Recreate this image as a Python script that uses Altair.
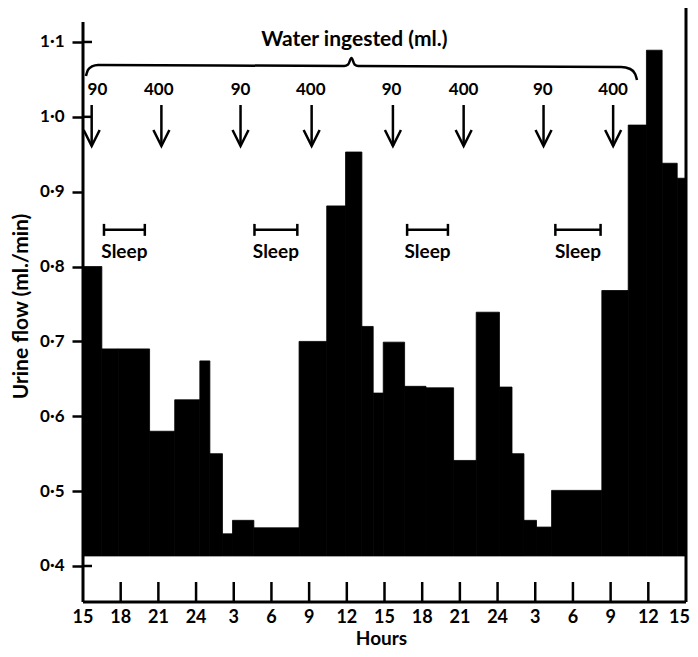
import json
import altair as alt
import pandas as pd

# ---- data (hours counted from 15:00 on the first day) ----
bar_start = [0, 1.5, 2.8, 5.3, 7.3, 9.3, 10.1, 11.1, 11.9, 13.6,
             17.2, 19.4, 20.9, 22.2, 23.1, 23.9, 25.6, 27.3, 29.5, 31.3,
             33.15, 34.15, 35.1, 36.1, 37.3, 41.3, 43.4, 44.85, 46.1, 47.3]
bar_end = bar_start[1:] + [48]
flow = [0.80, 0.69, 0.69, 0.58, 0.622, 0.674, 0.55, 0.443, 0.461, 0.451,
        0.70, 0.881, 0.953, 0.72, 0.631, 0.699, 0.64, 0.638, 0.541, 0.739,
        0.639, 0.55, 0.461, 0.452, 0.501, 0.768, 0.989, 1.089, 0.938, 0.918]
baseline = 0.4134

x_tick_hours = list(range(0, 49, 3))
x_tick_labels = ["15", "18", "21", "24", "3", "6", "9", "12", "15",
                 "18", "21", "24", "3", "6", "9", "12", "15"]
y_tick_values = [0.4, 0.5, 0.6, 0.7, 0.8, 0.9, 1.0, 1.1]
y_tick_labels = ["0·4", "0·5", "0·6", "0·7", "0·8", "0·9", "1·0", "1·1"]
y_cross_ticks = [0.4, 1.0, 1.1]

arrow_hours = [0.69, 6.24, 12.54, 18.2, 24.67, 30.3, 36.66, 42.2]
arrow_label_hours = [1.15, 6.03, 12.54, 18.13, 24.56, 30.3, 36.6, 42.2]
water_ml = ["90", "400", "90", "400", "90", "400", "90", "400"]
arrow_label_level = 1.0359
arrow_top_level = 1.0158
arrow_tip_level = 0.9611

sleep_start = [1.67, 13.65, 25.8, 37.6]
sleep_end = [4.92, 17.06, 29.05, 41.2]
sleep_level = 0.849
sleep_cap = 0.008
sleep_text_level = 0.8195

brace_hours = [0.238, 0.397, 0.714, 1.19, 20.79, 21.1, 21.37, 21.62, 21.9, 42.84, 43.56, 43.95, 44.1]
brace_level = [1.0546, 1.0626, 1.0673, 1.0693, 1.0679, 1.0699, 1.0786, 1.0699, 1.0679, 1.0666, 1.0639, 1.0573, 1.0492]
water_title_hour = 21.6
water_title_level = 1.1027

left_axis_top = 1.1267

W, H = 603, 600
Y_MIN, Y_MAX = 0.3519, 1.1534
X_MIN, X_MAX = 0, 48
FONT = "Lato"

xs = alt.Scale(domain=[X_MIN, X_MAX], nice=False, zero=False)
ys = alt.Scale(domain=[Y_MIN, Y_MAX], nice=False, zero=False)

bars_df = pd.DataFrame({"start": bar_start, "end": bar_end, "flow": flow,
                        "base": [baseline] * len(flow)})

y_label_expr = json.dumps(y_tick_labels, ensure_ascii=False) + "[round((datum.value - 0.4) * 10)]"

bars = alt.Chart(bars_df).mark_rect(color="black", stroke="black", strokeWidth=0.8).encode(
    x=alt.X("start:Q", scale=xs, axis=alt.Axis(
        labels=False, ticks=False, domain=False, grid=False,
        title="Hours", titleFont=FONT, titleFontWeight="bold", titleFontSize=19, titleColor="black",
        titleX=298, titleY=36, titleAlign="center", titleBaseline="middle")),
    x2="end:Q",
    y=alt.Y("base:Q", scale=ys, axis=alt.Axis(
        values=y_tick_values, labelExpr=y_label_expr, ticks=True, tickSize=11, tickWidth=2.5,
        tickColor="black", domain=False, grid=False, labelOverlap=False, labelFlush=False,
        labelPadding=8, labelFont=FONT, labelFontWeight="bold", labelFontSize=17, labelColor="black",
        title="Urine flow (ml./min)", titleFont=FONT, titleFontWeight="bold", titleFontSize=21,
        titleColor="black", titleAngle=270, titleX=-62, titleY=304, titleAlign="center",
        titleBaseline="middle")),
    y2="flow:Q",
)

# x tick labels drawn as text at the tick hours
xlab_df = pd.DataFrame({"h": x_tick_hours, "t": x_tick_labels})
xlabels = alt.Chart(xlab_df.iloc[:-1]).mark_text(
    font=FONT, fontWeight="bold", fontSize=18, color="black", baseline="middle", align="center").encode(
    x=alt.X("h:Q", scale=xs), y=alt.value(H + 16), text="t:N")
xlabel_last = alt.Chart(xlab_df.iloc[-1:]).mark_text(
    font=FONT, fontWeight="bold", fontSize=18, color="black", baseline="middle", align="right", dx=4).encode(
    x=alt.X("h:Q", scale=xs), y=alt.value(H + 16), text="t:N")

xtick_df = pd.DataFrame({"h": x_tick_hours[1:-1]})
xticks = alt.Chart(xtick_df).mark_rule(color="black", strokeWidth=2.5).encode(
    x=alt.X("h:Q", scale=xs), y=alt.value(H - 20), y2=alt.value(H))

ycross_df = pd.DataFrame({"v": y_cross_ticks})
ycross = alt.Chart(ycross_df).mark_rule(color="black", strokeWidth=2.5).encode(
    y=alt.Y("v:Q", scale=ys), x=alt.value(0), x2=alt.value(9))

vlines_df = pd.DataFrame({"pos": ["left", "right"], "y0": [Y_MIN, Y_MIN],
                          "y1": [left_axis_top, Y_MAX], "hx": [X_MIN, X_MAX]})
vlines = alt.Chart(vlines_df).mark_rule(color="black", strokeWidth=3).encode(
    x=alt.X("hx:Q", scale=xs), y=alt.Y("y0:Q", scale=ys), y2="y1:Q")

hline_df = pd.DataFrame({"x0": [X_MIN], "x1": [X_MAX], "y": [Y_MIN]})
hline = alt.Chart(hline_df).mark_rule(color="black", strokeWidth=3).encode(
    x=alt.X("x0:Q", scale=xs), x2="x1:Q", y=alt.Y("y:Q", scale=ys))

brace_df = pd.DataFrame({"h": brace_hours, "v": brace_level})
brace = alt.Chart(brace_df).mark_line(color="black", strokeWidth=2.5, interpolate="monotone").encode(
    x=alt.X("h:Q", scale=xs), y=alt.Y("v:Q", scale=ys))

water_df = pd.DataFrame({"h": [water_title_hour], "v": [water_title_level],
                         "t": ["Water ingested (ml.)"]})
water_title = alt.Chart(water_df).mark_text(font=FONT, fontWeight="bold", fontSize=21,
                                            color="black", baseline="middle").encode(
    x=alt.X("h:Q", scale=xs), y=alt.Y("v:Q", scale=ys), text="t:N")

arrows_df = pd.DataFrame({"h": arrow_hours, "lh": arrow_label_hours, "ml": water_ml,
                          "top": [arrow_top_level] * 8, "tip": [arrow_tip_level] * 8,
                          "lv": [arrow_label_level] * 8})
shafts = alt.Chart(arrows_df).mark_rule(color="black", strokeWidth=2.5).encode(
    x=alt.X("h:Q", scale=xs), y=alt.Y("top:Q", scale=ys), y2="tip:Q")
heads = alt.Chart(arrows_df).mark_point(shape="M -1 -2 L 0 0 L 1 -2", filled=False, size=256,
                                        color="black", strokeWidth=2.5, opacity=1).encode(
    x=alt.X("h:Q", scale=xs), y=alt.Y("tip:Q", scale=ys))
arrow_labels = alt.Chart(arrows_df).mark_text(font=FONT, fontWeight="bold", fontSize=17,
                                              color="black", baseline="middle").encode(
    x=alt.X("lh:Q", scale=xs), y=alt.Y("lv:Q", scale=ys), text="ml:N")

sleep_df = pd.DataFrame({"s": sleep_start, "e": sleep_end,
                         "mid": [(a + b) / 2 for a, b in zip(sleep_start, sleep_end)],
                         "lv": [sleep_level] * 4, "lo": [sleep_level - sleep_cap] * 4,
                         "hi": [sleep_level + sleep_cap] * 4, "tv": [sleep_text_level] * 4,
                         "t": ["Sleep"] * 4})
sleep_bar = alt.Chart(sleep_df).mark_rule(color="black", strokeWidth=2.5).encode(
    x=alt.X("s:Q", scale=xs), x2="e:Q", y=alt.Y("lv:Q", scale=ys))
sleep_cap_l = alt.Chart(sleep_df).mark_rule(color="black", strokeWidth=2.5).encode(
    x=alt.X("s:Q", scale=xs), y=alt.Y("lo:Q", scale=ys), y2="hi:Q")
sleep_cap_r = alt.Chart(sleep_df).mark_rule(color="black", strokeWidth=2.5).encode(
    x=alt.X("e:Q", scale=xs), y=alt.Y("lo:Q", scale=ys), y2="hi:Q")
sleep_text = alt.Chart(sleep_df).mark_text(font=FONT, fontWeight="bold", fontSize=19,
                                           color="black", baseline="middle").encode(
    x=alt.X("mid:Q", scale=xs), y=alt.Y("tv:Q", scale=ys), text="t:N")

chart = alt.layer(
    bars, xlabels, xlabel_last, xticks, ycross, vlines, hline, brace, water_title, shafts, heads,
    arrow_labels, sleep_bar, sleep_cap_l, sleep_cap_r, sleep_text,
).properties(
    width=W, height=H,
    autosize=alt.AutoSizeParams(type="none"),
    padding={"left": 75, "top": -6, "right": 4, "bottom": 47},
    background="white",
).configure_view(stroke=None)

chart.save("out.html", embed_options={"renderer": "svg", "actions": False})
